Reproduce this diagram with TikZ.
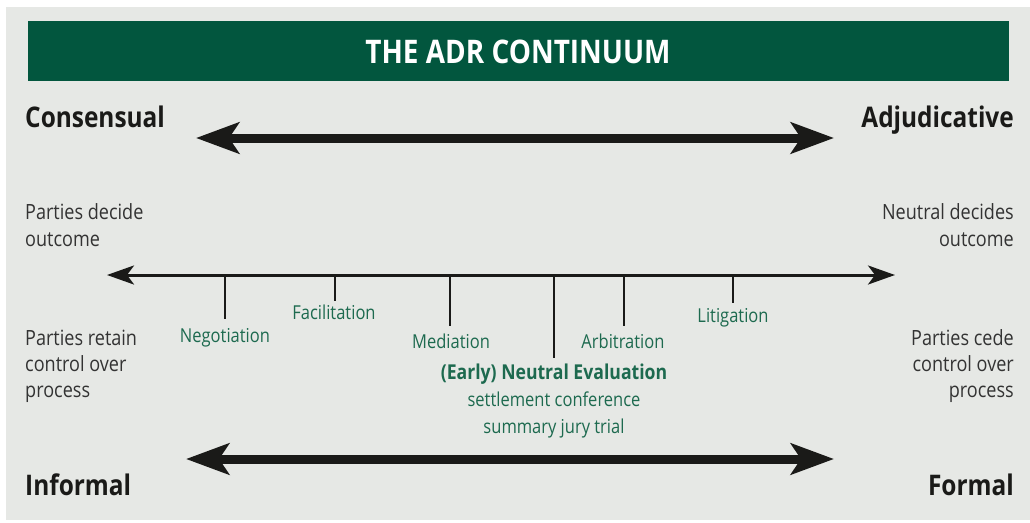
\documentclass[tikz,border=0pt]{standalone}
\usepackage{fontspec}
\setmainfont{Open Sans}[FakeStretch=0.86]
\usetikzlibrary{arrows.meta}
\definecolor{bggray}{HTML}{E6E8E5}
\definecolor{bargreen}{HTML}{02563E}
\definecolor{txtgreen}{HTML}{1D6A4F}
\definecolor{arrowblack}{HTML}{1A1A18}
\definecolor{bodygray}{HTML}{333333}
\tikzset{
  heading/.style={font=\fontsize{28.4}{32}\selectfont\bfseries, text=arrowblack, inner sep=0pt},
  body/.style={font=\fontsize{21}{26.5}\selectfont, text=bodygray, inner sep=0pt},
  method/.style={font=\fontsize{19.2}{26.5}\selectfont, text=txtgreen, inner sep=0pt, anchor=base},
  bigarrow/.style={line width=9pt, arrowblack, {Stealth[length=43pt,width=31pt,inset=10pt]}-{Stealth[length=43pt,width=31pt,inset=10pt]}},
  axis/.style={line width=3pt, arrowblack, {Stealth[length=27pt,width=19pt,inset=7pt]}-{Stealth[length=27pt,width=19pt,inset=7pt]}},
  tick/.style={line width=2.6pt, arrowblack},
}
\begin{document}
\begin{tikzpicture}[x=1pt,y=-1pt]
\useasboundingbox (0,0) rectangle (1030,522);
\fill[bggray] (6,7) rectangle (1030,520);
\fill[bargreen] (28,21) rectangle (1009,81);
\node[font=\fontsize{32.5}{36}\selectfont\bfseries, text=white, anchor=base, inner sep=0pt] (title) at (518,63) {THE ADR CONTINUUM};

% headings
\node[heading, anchor=base west] (cons) at (25,127) {Consensual};
\node[heading, anchor=base east] (adj) at (1014,127) {Adjudicative};
\node[heading, anchor=base west] (inf) at (25,495) {Informal};
\node[heading, anchor=base east] (form) at (1014,495) {Formal};

% big arrows
\coordinate (ta) at (196,138);
\coordinate (tb) at (834,138);
\draw[bigarrow] (ta) -- (tb);
\coordinate (ba) at (186,459);
\coordinate (bb) at (834,459);
\draw[bigarrow] (ba) -- (bb);

% side texts
\node[body, anchor=base west] (pd1) at (25,219) {Parties decide};
\node[body, anchor=base west] (pd2) at (25,246) {outcome};
\node[body, anchor=base east] (nd1) at (1014,219) {Neutral decides};
\node[body, anchor=base east] (nd2) at (1014,246) {outcome};
\node[body, anchor=base west] (pr1) at (25,345) {Parties retain};
\node[body, anchor=base west] (pr2) at (25,371) {control over};
\node[body, anchor=base west] (pr3) at (25,397) {process};
\node[body, anchor=base east] (pc1) at (1014,345) {Parties cede};
\node[body, anchor=base east] (pc2) at (1014,371) {control over};
\node[body, anchor=base east] (pc3) at (1014,397) {process};

% axis
\coordinate (axl) at (107,275);
\coordinate (axr) at (895,275);
\draw[axis] (axl) -- (axr);

% ticks
\coordinate (t1) at (225,275); \coordinate (e1) at (225,319);
\coordinate (t2) at (335,275); \coordinate (e2) at (335,301);
\coordinate (t3) at (450,275); \coordinate (e3) at (450,326);
\coordinate (t4) at (554,275); \coordinate (e4) at (554,358);
\coordinate (t5) at (624,275); \coordinate (e5) at (624,326);
\coordinate (t6) at (733,275); \coordinate (e6) at (733,303);
\foreach \i in {1,...,6} \draw[tick] (t\i) -- (e\i);

% methods
\node[method] (neg) at (225,342) {Negotiation};
\node[method] (fac) at (334,319) {Facilitation};
\node[method] (med) at (451,348) {Mediation};
\node[method] (arb) at (623,348) {Arbitration};
\node[method] (lit) at (733,322) {Litigation};
\node[method, font=\fontsize{20.5}{26.5}\selectfont\bfseries] (ene) at (554,379) {(Early) Neutral Evaluation};
\node[method] (set) at (554,406) {settlement conference};
\node[method] (sjt) at (554,433) {summary jury trial};
\end{tikzpicture}
\end{document}
